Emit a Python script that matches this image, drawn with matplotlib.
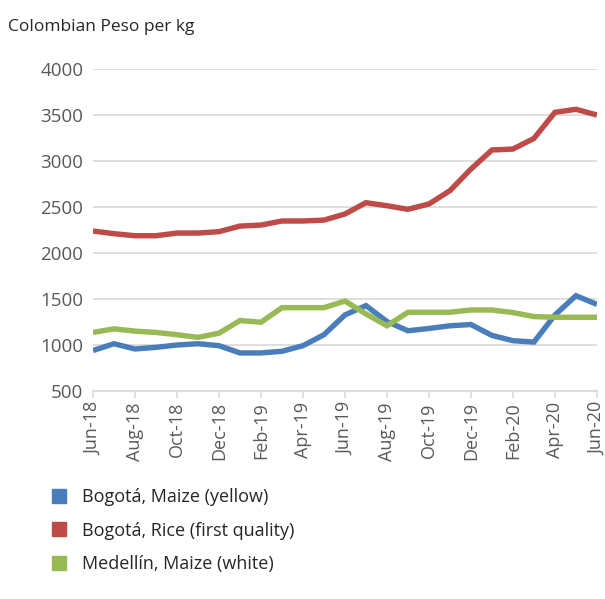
import matplotlib
matplotlib.use("Agg")
import matplotlib.pyplot as plt
from matplotlib.lines import Line2D

months = ["Jun-18","Jul-18","Aug-18","Sep-18","Oct-18","Nov-18","Dec-18","Jan-19","Feb-19",
          "Mar-19","Apr-19","May-19","Jun-19","Jul-19","Aug-19","Sep-19","Oct-19","Nov-19",
          "Dec-19","Jan-20","Feb-20","Mar-20","Apr-20","May-20","Jun-20"]
maize_yellow = [940,1014,957,975,1000,1014,993,914,914,932,993,1112,1327,1428,1255,1155,
                1180,1209,1223,1104,1047,1032,1327,1536,1442]
rice = [2239,2210,2188,2188,2217,2217,2232,2293,2304,2348,2348,2358,2424,2547,2514,2475,
        2533,2678,2913,3120,3130,3246,3529,3562,3500]
maize_white = [1137,1176,1151,1137,1112,1083,1129,1266,1248,1406,1406,1406,1478,1338,1209,
               1356,1356,1356,1381,1381,1353,1309,1302,1302,1302]
labels = ["Bogotá, Maize (yellow)", "Bogotá, Rice (first quality)", "Medellín, Maize (white)"]
colors = ["#4A7EBB", "#BE4B48", "#98B954"]
yticks = [500,1000,1500,2000,2500,3000,3500,4000]

plt.rcParams['font.family'] = ['Open Sans', 'DejaVu Sans']
fig = plt.figure(figsize=(6.05, 5.99), dpi=100)
ax = fig.add_axes([0.1537, 0.3472, 0.833, 0.5376])

x = list(range(len(months)))
for series, c in zip([maize_yellow, rice, maize_white], colors):
    ax.plot(x, series, color=c, lw=3.9, solid_joinstyle='miter', solid_capstyle='butt')

ax.set_xlim(0, len(months) - 1)
ax.set_ylim(500, 4000)
ax.set_yticks(yticks)
ax.set_yticklabels([str(v) for v in yticks])
ax.yaxis.grid(True, color="#D9D9D9", lw=1.2)
ax.set_axisbelow(True)
for s in ["top", "right", "left"]:
    ax.spines[s].set_visible(False)
ax.spines["bottom"].set_color("#D9D9D9")
ax.spines["bottom"].set_linewidth(1.2)
ax.tick_params(axis='y', length=0, pad=7, labelsize=13.5, labelcolor="#595959")
ax.set_xticks(x[::2])
ax.set_xticklabels(months[::2], rotation=90)
ax.tick_params(axis='x', length=5, width=1.2, color="#D9D9D9", labelsize=13,
               labelcolor="#595959", pad=3)

fig.text(0.013, 0.955, "Colombian Peso per kg", fontsize=12.5, color="#262626", va='center')

handles = [Line2D([], [], ls='none', marker='s', markersize=10, color=c) for c in colors]
fig.legend(handles, labels, loc='upper left', bbox_to_anchor=(0.055, 0.212), frameon=False,
           fontsize=13, labelcolor="#262626", handlelength=1.0, handletextpad=0.8,
           labelspacing=0.85)

fig.savefig("out.png", dpi=100)
